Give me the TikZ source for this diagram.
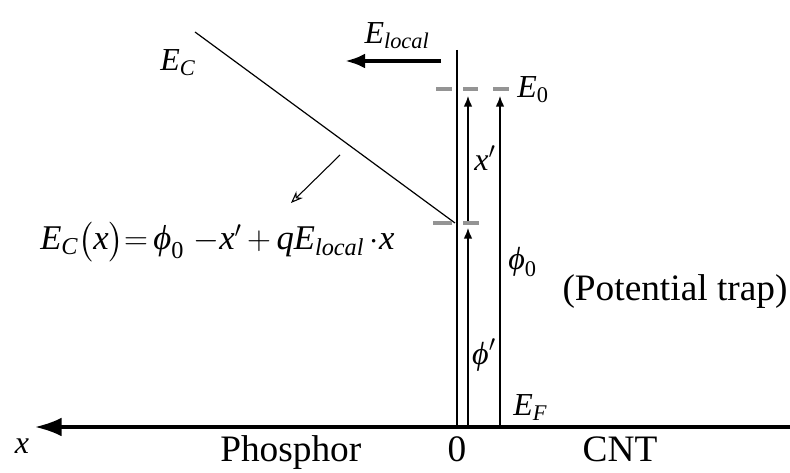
\documentclass[tikz,border=0pt]{standalone}
\usepackage{amsmath}
\usepackage{fontspec}
\setmainfont{Liberation Serif}
\usetikzlibrary{arrows.meta}
\newcommand{\mi}[1]{\textit{#1}}
\newcommand{\mup}[1]{\textup{#1}}
\begin{document}
\begin{tikzpicture}[x=0.75pt,y=-0.75pt,
  font=\fontsize{28}{32}\selectfont,
  lbl/.style={inner sep=0pt},
  mlbl/.style={inner sep=0pt,font=\fontsize{24}{28}\selectfont},
  axisline/.style={line width=2.3pt,-{Latex[length=20pt,width=14pt]}},
  fieldarrow/.style={line width=2.8pt,-{Latex[length=15pt,width=11pt]}},
  thinline/.style={line width=1.1pt},
  uparrow/.style={line width=1.1pt,-{Latex[length=8pt,width=6.5pt]}},
  level/.style={line width=2.6pt,draw=black!42},
  pointer/.style={line width=0.8pt,-{Stealth[length=9pt,width=7pt,open]}}
]
\useasboundingbox (0,0) rectangle (790,473);

% coordinates
\coordinate (axR) at (790,427);
\coordinate (axL) at (35,427);
\coordinate (vT) at (457,50);
\coordinate (vB) at (457,427);
\coordinate (aB) at (468,427);
\coordinate (aM) at (468,228);
\coordinate (aM2) at (468,223);
\coordinate (aT) at (468,96);
\coordinate (pB) at (500,427);
\coordinate (pT) at (500,96);
\coordinate (fR) at (441,61);
\coordinate (fL) at (345,61);
\coordinate (ecS) at (195,32);
\coordinate (ecE) at (455,223);
\coordinate (ptS) at (340,155);
\coordinate (ptE) at (291,203);

% axis and lines
\draw[axisline] (axR) -- (axL);
\draw[thinline] (vT) -- (vB);
\draw[uparrow] (aB) -- (aM);
\draw[uparrow] (aM2) -- (aT);
\draw[uparrow] (pB) -- (pT);
\draw[fieldarrow] (fR) -- (fL);
\draw[line width=0.9pt] (ecS) -- (ecE);
\draw[pointer] (ptS) -- (ptE);

% energy levels (dashes)
\coordinate (d1a) at (436,89); \coordinate (d1b) at (452,89);
\coordinate (d2a) at (463,89); \coordinate (d2b) at (478,89);
\coordinate (d3a) at (493,89); \coordinate (d3b) at (509,89);
\coordinate (d4a) at (433,223); \coordinate (d4b) at (452,223);
\coordinate (d5a) at (463,223); \coordinate (d5b) at (479,223);
\draw[level] (d1a) -- (d1b);
\draw[level] (d2a) -- (d2b);
\draw[level] (d3a) -- (d3b);
\draw[level] (d4a) -- (d4b);
\draw[level] (d5a) -- (d5b);

% labels
\node[mlbl] (lEC) at (178,63) {$\mi{E}_{\mi{C}}$};
\node[mlbl] (lEl) at (397,36) {$\mi{E}_{\mi{local}}$};
\node[mlbl,anchor=west] (lE0) at (517,90) {$\mi{E}_{\mup{0}}$};
\node[mlbl] (lxp) at (485,158) {$\mi{x}'$};
\node[mlbl,anchor=west] (lphi0) at (508,262) {$\mi{ϕ}_{\mup{0}}$};
\node[mlbl] (lphip) at (484,355) {$\mi{ϕ}'$};
\node[mlbl,anchor=west] (lEF) at (513,408) {$\mi{E}_{\mi{F}}$};
\node[lbl] (ltrap) at (675,292) {(Potential trap)};
\node[mlbl] (lx) at (22,446) {$\mi{x}$};
\node[lbl,anchor=base west] (lph) at (220,462) {Phosphor};
\node[lbl,anchor=base] (l0) at (457,462) {0};
\node[lbl,anchor=base] (lcnt) at (620,462) {CNT};
\node[lbl,anchor=base west,font=\fontsize{26}{30}\selectfont] (lform) at (40,250)
  {$\mi{E}_{\mi{C}}\bigl(\mi{x}\bigr){=}\,\mi{ϕ}_{\mup{0}}\;{-}\mi{x}'\,{+}\,\mi{q}\mi{E}_{\mi{local}}\,{\cdot}\mi{x}$};
\end{tikzpicture}
\end{document}
